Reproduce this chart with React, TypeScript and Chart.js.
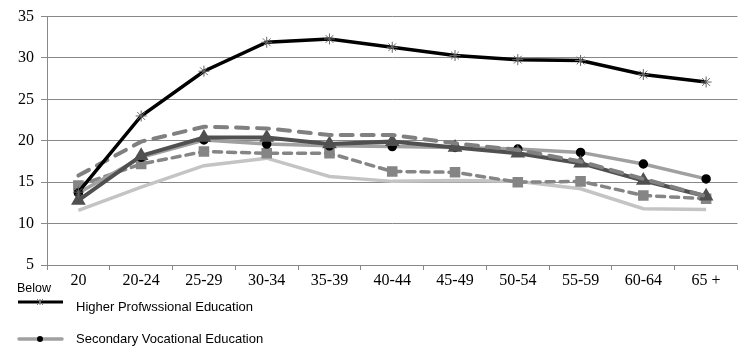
import React, { useEffect, useRef } from "react";
import { Chart, registerables } from "chart.js";

Chart.register(...registerables);

const categories = ["Below 20", "20-24", "25-29", "30-34", "35-39", "40-44", "45-49", "50-54", "55-59", "60-64", "65 +"];
const belowWord = "Below";
const higherProfessional = [13.8, 23.0, 28.4, 31.9, 32.3, 31.3, 30.3, 29.8, 29.7, 28.0, 27.1];
const secondaryVocational = [13.7, 18.0, 20.1, 19.6, 19.4, 19.3, 19.2, 19.0, 18.6, 17.2, 15.4];
const seriesTriangle = [12.8, 18.2, 20.4, 20.4, 19.6, 19.9, 19.2, 18.5, 17.3, 15.2, 13.3];
const seriesLongDash = [15.8, 19.9, 21.7, 21.5, 20.7, 20.7, 19.7, 18.9, 17.5, 15.4, 13.3];
const seriesSquare = [14.6, 17.2, 18.7, 18.5, 18.5, 16.3, 16.2, 15.0, 15.1, 13.4, 13.0];
const seriesLight = [11.6, 14.4, 17.0, 17.9, 15.7, 15.1, 15.2, 15.1, 14.2, 11.8, 11.7];
const yMin = 5;
const yMax = 35;
const yStep = 5;
const legendLabels = ["Higher Profwssional Education", "Secondary Vocational Education"];

const SANS = "'Liberation Sans', Arial, sans-serif";
const SERIF = "'Liberation Serif', 'Times New Roman', serif";

const extraText = {
  id: "extraText",
  afterDraw(chart: any) {
    const ctx = chart.ctx as CanvasRenderingContext2D;
    ctx.save();
    ctx.font = `12.5px ${SANS}`;
    ctx.fillStyle = "#000";
    ctx.textBaseline = "middle";
    ctx.textAlign = "left";
    ctx.fillText(belowWord, 17, 289);

    ctx.font = `13px ${SANS}`;
    // legend item 1
    ctx.strokeStyle = "#000";
    ctx.lineWidth = 3;
    ctx.beginPath();
    ctx.moveTo(18, 302);
    ctx.lineTo(63, 302);
    ctx.stroke();
    ctx.strokeStyle = "#777";
    ctx.lineWidth = 1;
    ctx.beginPath();
    const cx = 40, cy = 302, r = 3;
    ctx.moveTo(cx - r, cy - r); ctx.lineTo(cx + r, cy + r);
    ctx.moveTo(cx - r, cy + r); ctx.lineTo(cx + r, cy - r);
    ctx.moveTo(cx, cy - r); ctx.lineTo(cx, cy + r);
    ctx.stroke();
    ctx.fillStyle = "#000";
    ctx.fillText(legendLabels[0], 76, 307);

    // legend item 2
    ctx.strokeStyle = "#a0a0a0";
    ctx.lineWidth = 3.5;
    ctx.lineCap = "round";
    ctx.beginPath();
    ctx.moveTo(19, 339);
    ctx.lineTo(62, 339);
    ctx.stroke();
    ctx.fillStyle = "#000";
    ctx.beginPath();
    ctx.arc(40, 339, 3, 0, Math.PI * 2);
    ctx.fill();
    ctx.fillText(legendLabels[1], 76, 339);
    ctx.restore();
  },
};

export default function App() {
  const ref = useRef<HTMLCanvasElement>(null);
  useEffect(() => {
    if (!ref.current) return;
    const chart = new Chart(ref.current, {
      type: "line",
      data: {
        labels: categories,
        datasets: [
          {
            label: "Higher Profwssional Education",
            data: higherProfessional,
            borderColor: "#000",
            borderWidth: 3.5,
            pointStyle: "star",
            pointRadius: 5.5,
            pointBorderColor: "#666",
            pointBackgroundColor: "#666",
            pointBorderWidth: 1,
            tension: 0,
            order: 0,
          },
          {
            label: "Long dash",
            data: seriesLongDash,
            borderColor: "#808080",
            borderWidth: 4,
            borderDash: [12, 9],
            borderCapStyle: "round",
            pointRadius: 0,
            tension: 0,
            order: 1,
          },
          {
            label: "Triangle",
            data: seriesTriangle,
            borderColor: "#505050",
            borderWidth: 4,
            pointStyle: "triangle",
            pointRadius: 4.5,
            pointBorderColor: "#505050",
            pointBackgroundColor: "#505050",
            tension: 0,
            order: 2,
          },
          {
            label: "Secondary Vocational Education",
            data: secondaryVocational,
            borderColor: "#a0a0a0",
            borderWidth: 3.5,
            pointStyle: "circle",
            pointRadius: 3,
            pointBorderColor: "#000",
            pointBackgroundColor: "#000",
            tension: 0,
            order: 3,
          },
          {
            label: "Square",
            data: seriesSquare,
            borderColor: "#858585",
            borderWidth: 3.5,
            borderDash: [8, 6],
            borderCapStyle: "round",
            pointStyle: "rect",
            pointRadius: 5,
            pointBorderColor: "#858585",
            pointBackgroundColor: "#858585",
            tension: 0,
            order: 4,
          },
          {
            label: "Light",
            data: seriesLight,
            borderColor: "#c4c4c4",
            borderWidth: 3.5,
            pointRadius: 0,
            tension: 0,
            order: 5,
          },
        ],
      },
      options: {
        animation: false,
        responsive: false,
        maintainAspectRatio: false,
        devicePixelRatio: 1,
        layout: { padding: { top: 15, left: 0, right: 4, bottom: 0 } },
        plugins: { legend: { display: false }, tooltip: { enabled: false } },
        scales: {
          x: {
            offset: true,
            grid: { offset: true, drawOnChartArea: false, drawTicks: true, tickLength: 5, color: "#888" },
            border: { color: "#888" },
            ticks: {
              color: "#000",
              font: { family: SERIF, size: 16 },
              padding: 1,
              maxRotation: 0,
              autoSkip: false,
              callback: (_v: any, i: number) => categories[i].replace(belowWord + " ", ""),
            },
            afterFit: (s: any) => { s.height = 90; },
          },
          y: {
            min: yMin,
            max: yMax,
            ticks: { stepSize: yStep, color: "#000", font: { family: SERIF, size: 16 }, padding: 7 },
            grid: { color: "#888", tickLength: 6 },
            border: { color: "#888" },
            afterFit: (s: any) => { s.width = 47; },
          },
        },
      },
      plugins: [extraText],
    });
    return () => chart.destroy();
  }, []);
  return (
    <div style={{ position: "fixed", left: 0, top: 0, width: 746, height: 355, background: "#fff" }}>
      <canvas ref={ref} width={746} height={355} style={{ display: "block", width: 746, height: 355 }} />
    </div>
  );
}
